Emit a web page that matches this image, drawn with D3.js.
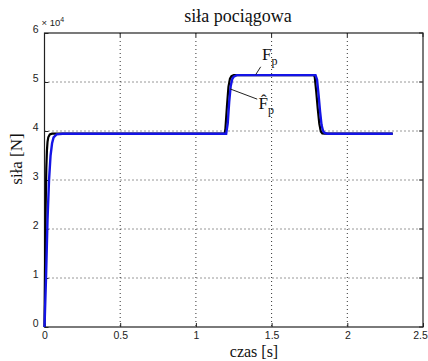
<!DOCTYPE html>
<html>
<head>
<meta charset="utf-8">
<script src="https://cdn.jsdelivr.net/npm/d3@7"></script>
<style>
  body { margin: 0; background: #fff; }
  svg { display: block; }
</style>
</head>
<body>
<svg id="chart" width="428" height="361"></svg>
<script>
// values (force in units of 1e4 N)
const xTicks = [0, 0.5, 1, 1.5, 2, 2.5];
const yTicks = [0, 1, 2, 3, 4, 5, 6];
const xTickLabels = ['0', '0.5', '1', '1.5', '2', '2.5'];
const yTickLabels = ['0', '1', '2', '3', '4', '5', '6'];

// measured force (black)
const blackT = [0, 0.004, 0.008, 0.012, 0.016, 0.02, 0.025, 0.035, 0.05, 0.08, 1.19, 1.195, 1.205, 1.215, 1.225, 1.235, 1.25, 1.28, 1.78, 1.785, 1.795, 1.805, 1.815, 1.825, 1.835, 1.85, 2.3];
const blackF = [0, 1.3, 2.5, 3.25, 3.6, 3.78, 3.87, 3.93, 3.945, 3.945, 3.945, 4.05, 4.5, 4.9, 5.07, 5.12, 5.14, 5.14, 5.14, 5.1, 4.8, 4.45, 4.15, 3.99, 3.95, 3.945, 3.945];

// estimated force (blue)
const blueT = [0, 0.01, 0.02, 0.03, 0.04, 0.05, 0.06, 0.08, 0.12, 1.2, 1.21, 1.22, 1.23, 1.24, 1.25, 1.27, 1.3, 1.79, 1.8, 1.81, 1.82, 1.83, 1.84, 1.85, 1.87, 1.9, 2.3];
const blueF = [0, 1.0, 2.2, 3.0, 3.5, 3.75, 3.87, 3.93, 3.945, 3.945, 4.15, 4.6, 4.92, 5.06, 5.11, 5.14, 5.14, 5.14, 5.05, 4.75, 4.4, 4.12, 4.0, 3.96, 3.945, 3.945, 3.945];

const svg = d3.select('#chart');
const margin = { top: 33, right: 5, bottom: 34, left: 44.5 };
const height = 361 - margin.top - margin.bottom;

const g = svg.append('g')
  .attr('transform', `translate(${margin.left},${margin.top})`);

const xScale = d3.scaleLinear().domain([0, 2.5]).range([0, 378.5]);
const yScale = d3.scaleLinear().domain([0, 6]).range([height, 0]);
const W = xScale(2.5);
const sans = 'Liberation Sans, Arial, sans-serif';
const serif = 'Liberation Serif, Times New Roman, serif';

// grid
g.append('g')
  .selectAll('line')
  .data(xTicks.slice(1, -1))
  .join('line')
  .attr('x1', d => xScale(d)).attr('x2', d => xScale(d))
  .attr('y1', 0).attr('y2', height)
  .attr('stroke', '#333').attr('stroke-width', 1)
  .attr('stroke-dasharray', '1,3');
g.append('g')
  .selectAll('line')
  .data(yTicks.slice(1, -1))
  .join('line')
  .attr('x1', 0).attr('x2', W)
  .attr('y1', d => yScale(d)).attr('y2', d => yScale(d))
  .attr('stroke', '#333').attr('stroke-width', 1)
  .attr('stroke-dasharray', '1,3');

// box
g.append('rect')
  .attr('x', 0).attr('y', 0)
  .attr('width', W).attr('height', height)
  .attr('fill', 'none')
  .attr('stroke', '#222').attr('stroke-width', 1.2);

// axes, ticks pointing in
const xAxis = g.append('g')
  .attr('transform', `translate(0,${height})`)
  .call(d3.axisBottom(xScale).tickValues(xTicks).tickSize(-4).tickPadding(5)
    .tickFormat((d, i) => xTickLabels[i]));
xAxis.select('.domain').remove();
xAxis.selectAll('.tick line').attr('stroke', '#222');
xAxis.selectAll('text')
  .attr('dx', d => d === 2.5 ? -3 : 0)
  .style('font-family', sans)
  .style('font-size', '10.5px').attr('fill', '#222');

const yAxis = g.append('g')
  .call(d3.axisLeft(yScale).tickValues(yTicks).tickSize(-4).tickPadding(6)
    .tickFormat((d, i) => yTickLabels[i]));
yAxis.select('.domain').remove();
yAxis.selectAll('.tick line').attr('stroke', '#222');
yAxis.selectAll('text')
  .attr('dy', '-0.05em')
  .style('font-family', sans)
  .style('font-size', '10.5px').attr('fill', '#222');

// top ticks and right ticks
g.append('g').selectAll('line').data(xTicks).join('line')
  .attr('x1', d => xScale(d)).attr('x2', d => xScale(d))
  .attr('y1', 0).attr('y2', 4).attr('stroke', '#222');
g.append('g').selectAll('line').data(yTicks).join('line')
  .attr('x1', W).attr('x2', W - 4)
  .attr('y1', d => yScale(d)).attr('y2', d => yScale(d)).attr('stroke', '#222');

// exponent
const expo = g.append('text')
  .attr('x', -3).attr('y', -7)
  .style('font-family', sans)
  .style('font-size', '9.5px').attr('fill', '#222');
expo.append('tspan').text('× 10');
expo.append('tspan').attr('dy', -4).style('font-size', '7px').text('4');

// curves
const line = d3.line()
  .x(d => xScale(d[0]))
  .y(d => yScale(d[1]));

const plot = g.append('g');
plot.append('path')
  .datum(blackT.map((t, i) => [t, blackF[i]]))
  .attr('fill', 'none')
  .attr('stroke', '#000')
  .attr('stroke-width', 2.2)
  .attr('d', line);
plot.append('path')
  .datum(blueT.map((t, i) => [t, blueF[i]]))
  .attr('fill', 'none')
  .attr('stroke', '#1414e6')
  .attr('stroke-width', 2.4)
  .attr('d', line);

// annotations
g.append('line')
  .attr('x1', xScale(1.395)).attr('y1', yScale(5.15))
  .attr('x2', xScale(1.428)).attr('y2', yScale(5.31))
  .attr('stroke', '#222').attr('stroke-width', 1);
const fp = g.append('text')
  .attr('x', xScale(1.437)).attr('y', yScale(5.45))
  .style('font-family', serif).style('font-size', '17px').attr('fill', '#111');
fp.append('tspan').text('F');
fp.append('tspan').attr('dy', 5).style('font-size', '12px').text('p');

g.append('line')
  .attr('x1', xScale(1.225)).attr('y1', yScale(4.86))
  .attr('x2', xScale(1.405)).attr('y2', yScale(4.65))
  .attr('stroke', '#222').attr('stroke-width', 1);
const fh = g.append('text')
  .attr('x', xScale(1.413)).attr('y', yScale(4.45))
  .style('font-family', serif).style('font-size', '17px').attr('fill', '#111');
fh.append('tspan').text('F\u0302');
fh.append('tspan').attr('dy', 5).style('font-size', '12px').text('p');

// title and labels
svg.append('text')
  .attr('x', 238).attr('y', 22)
  .attr('text-anchor', 'middle')
  .style('font-family', serif).style('font-size', '18px').attr('fill', '#111')
  .text('siła pociągowa');

svg.append('text')
  .attr('x', 254).attr('y', 357)
  .attr('text-anchor', 'middle')
  .style('font-family', serif).style('font-size', '16px').attr('fill', '#111')
  .text('czas [s]');

svg.append('text')
  .attr('transform', 'translate(22,159) rotate(-90)')
  .attr('text-anchor', 'middle')
  .style('font-family', serif).style('font-size', '17px').attr('fill', '#111')
  .text('siła [N]');
</script>
</body>
</html>
